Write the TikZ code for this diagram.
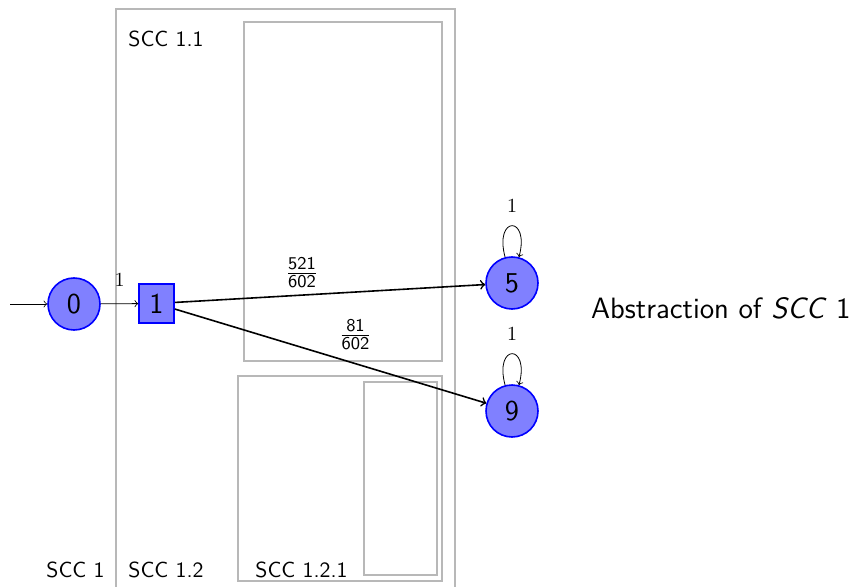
\documentclass[tikz,border=0pt]{standalone}
\usepackage{tikz}
\usetikzlibrary{arrows}
\renewcommand{\familydefault}{\sfdefault}

\begin{document}
\begin{tikzpicture}[x=0.5pt, y=-0.5pt, >=to,
    state/.style={circle, draw=blue, thick, fill=blue!50, minimum size=26pt, inner sep=0pt, font=\Large},
    choice/.style={rectangle, draw=blue, thick, fill=blue!50, minimum width=17.5pt, minimum height=19.5pt, inner sep=0pt, font=\Large},
    sccbox/.style={draw=black!28, line width=0.6pt},
    scclabel/.style={anchor=base west, inner sep=0pt, font=\fontsize{10.9pt}{13pt}\selectfont},
    trans/.style={->, thick},
    problabel/.style={font=\fontsize{13pt}{15pt}\selectfont},
    selfloop/.style={->, out=105, in=75, looseness=8, min distance=7mm}]

    \useasboundingbox (0,0) rectangle (854,587);

    % SCC boxes
    \draw[sccbox] (116,587) |- (455,9) -- (455,587);
    \draw[sccbox] (244,22) rectangle (442,361);
    \draw[sccbox] (238,376) rectangle (442,581);
    \draw[sccbox] (364,382) rectangle (437,575);

    \node[scclabel] (l11) at (128,47) {SCC 1.1};
    \node[scclabel] (l1) at (46,577) {SCC 1};
    \node[scclabel] (l12) at (128,577) {SCC 1.2};
    \node[scclabel] (l121) at (255,577) {SCC 1.2.1};

    % states
    \node[state] (s0) at (74,304) {0};
    \node[choice] (s1) at (156.5,303.5) {1};
    \node[state] (s5) at (512,283) {5};
    \node[state] (s9) at (512,411) {9};

    \coordinate (init) at (10,304);
    \draw[->] (init) -- (s0);
    \draw[->] (s0) -- node[above, yshift=5pt] {$1$} (s1);

    \draw[trans] (s1) -- node[problabel, pos=0.41, above=0pt] {$\frac{\mathsf{521}}{\mathsf{602}}$} (s5);
    \draw[trans] (s1) -- node[problabel, pos=0.58, above=3.5pt] {$\frac{\mathsf{81}}{\mathsf{602}}$} (s9);

    \draw[selfloop] (s5) to node[above, yshift=3pt] {$1$} (s5);
    \draw[selfloop] (s9) to node[above, yshift=3pt] {$1$} (s9);

    \node[anchor=base west, font=\fontsize{14.7pt}{17pt}\selectfont] (abs) at (584,318) {Abstraction of \textit{SCC} 1};
\end{tikzpicture}
\end{document}
